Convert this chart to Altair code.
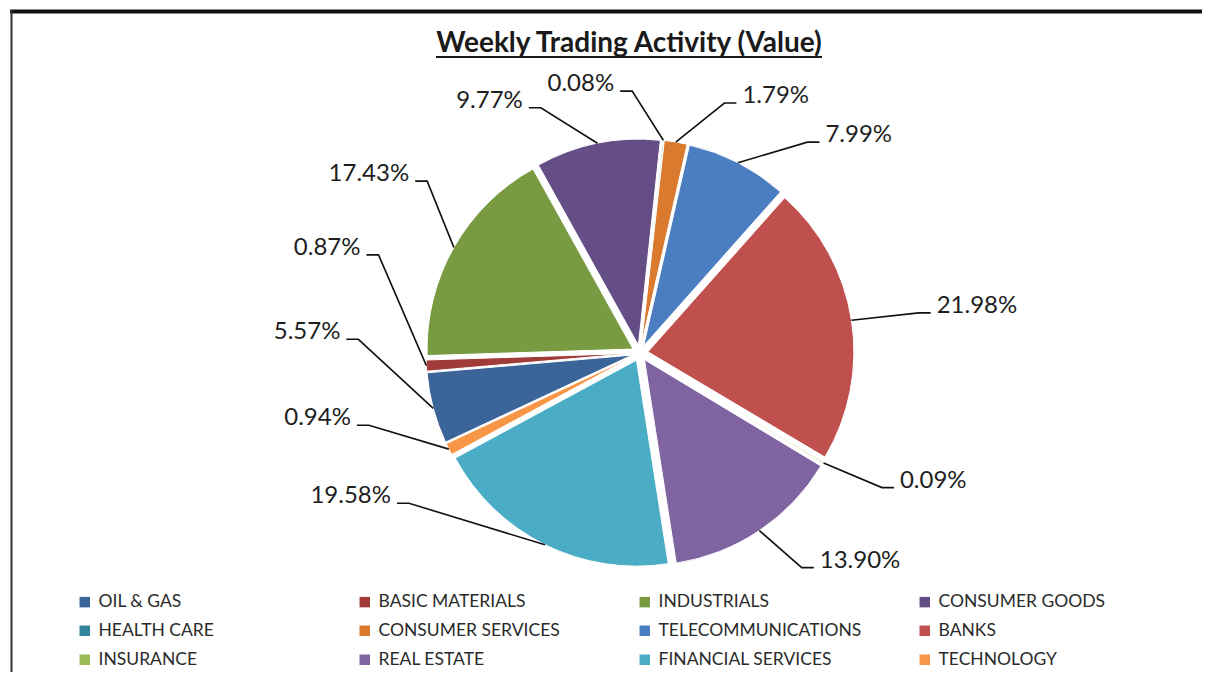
import math
import altair as alt
import pandas as pd

# ---------------- data ----------------
sectors = ["OIL & GAS", "BASIC MATERIALS", "INDUSTRIALS", "CONSUMER GOODS",
           "HEALTH CARE", "CONSUMER SERVICES", "TELECOMMUNICATIONS", "BANKS",
           "INSURANCE", "REAL ESTATE", "FINANCIAL SERVICES", "TECHNOLOGY"]
shares = [5.57, 0.87, 17.43, 9.77, 0.08, 1.79, 7.99, 21.98, 0.09, 13.90, 19.58, 0.94]
colors = ["#3B6499", "#A03B39", "#789A41", "#654E86", "#31849B", "#D97A2E",
          "#4A7EC0", "#C0504D", "#9BBB59", "#8064A2", "#4BACC6", "#F79646"]
title_text = "Weekly Trading Activity (Value)"

# ---------------- layout ----------------
W, H = 1194, 664
CX, CY = 632, 345          # pie centre inside the view
R = 206                    # slice radius
EXPLODE = 8                # slice explosion
RX_LAB, RY_LAB = 282, 262  # leader elbow ellipse
FIRST_ANGLE = 245.0        # angle of first slice (deg, clockwise from 12 o'clock)
TICK, GAP = 12, 6
MIN_SEP = 19.0
ZONE = (145.0, 235.0)      # keep labels off the bottom (legend area)
FONT = "Lato"

total = sum(shares)
f0s, f1s, mids = [], [], []
acc = 0.0
for v in shares:
    f0s.append(acc / total)
    acc += v
    f1s.append(acc / total)
    mids.append((FIRST_ANGLE + (f0s[-1] + f1s[-1]) / 2 * 360) % 360)


def spread(angles):
    lo, hi = ZONE
    t = []
    for a in angles:
        if lo < a < hi:
            a = lo if a - lo < hi - a else hi
        t.append(a if a >= hi else a + 360)
    order = sorted(range(len(t)), key=lambda i: t[i])
    target = [t[i] - k * MIN_SEP for k, i in enumerate(order)]
    blocks = []
    for v in target:
        blocks.append([v, 1])
        while len(blocks) > 1 and blocks[-2][0] / blocks[-2][1] > blocks[-1][0] / blocks[-1][1]:
            s, c = blocks.pop()
            blocks[-1][0] += s
            blocks[-1][1] += c
    q = []
    for s, c in blocks:
        q += [s / c] * c
    out = [0.0] * len(t)
    for k, i in enumerate(order):
        p = max(q[k], hi) + k * MIN_SEP
        out[i] = p % 360
    return out


lab_angles = spread(mids)

rad = math.radians
slice_rows, leader_rows, text_rows = [], [], []
for i, name in enumerate(sectors):
    m = rad(mids[i])
    la = rad(lab_angles[i])
    slice_rows.append({"sector": name, "share": shares[i], "f0": f0s[i], "f1": f1s[i],
                       "ex": EXPLODE * math.sin(m), "ey": EXPLODE * math.cos(m)})
    side = 1 if lab_angles[i] < 180 else -1
    edge = ((R + EXPLODE) * math.sin(m), (R + EXPLODE) * math.cos(m))
    elbow = (RX_LAB * math.sin(la), RY_LAB * math.cos(la))
    end = (elbow[0] + side * TICK, elbow[1])
    for k, pt in enumerate([edge, elbow, end]):
        leader_rows.append({"sector": name, "k": k, "px": pt[0], "py": pt[1]})
    text_rows.append({"sector": name, "label": f"{shares[i]:.2f}%",
                      "tx": elbow[0] + side * (TICK + GAP), "ty": elbow[1],
                      "side": "right" if side > 0 else "left"})

slices = pd.DataFrame(slice_rows)
leaders = pd.DataFrame(leader_rows)
texts = pd.DataFrame(text_rows)

xs = alt.Scale(domain=[-CX, W - CX], range=[0, W], nice=False, zero=False)
ys = alt.Scale(domain=[-(H - CY), CY], range=[H, 0], nice=False, zero=False)
theta_scale = alt.Scale(domain=[0, 1], range=[rad(FIRST_ANGLE), rad(FIRST_ANGLE) + 2 * math.pi])

arcs = alt.Chart(slices).mark_arc(outerRadius=R, stroke="white", strokeWidth=1).encode(
    theta=alt.Theta("f0:Q", scale=theta_scale, stack=None),
    theta2="f1:Q",
    x=alt.X("ex:Q", scale=xs, axis=None),
    y=alt.Y("ey:Q", scale=ys, axis=None),
    color=alt.Color("sector:N", scale=alt.Scale(domain=sectors, range=colors),
                    legend=alt.Legend(orient="none", legendX=68, legendY=585,
                                      direction="horizontal", columns=4, gridAlign="all",
                                      columnPadding=54, rowPadding=10, title=None,
                                      symbolType="square", symbolSize=110,
                                      symbolStrokeWidth=0, labelOffset=5,
                                      labelFont=FONT, labelFontSize=17.5,
                                      labelColor="#2b2b2b", labelLimit=400)),
    tooltip=["sector:N", "share:Q"],
)

lines = alt.Chart(leaders).mark_line(color="#111111", strokeWidth=1.6).encode(
    x=alt.X("px:Q", scale=xs, axis=None),
    y=alt.Y("py:Q", scale=ys, axis=None),
    detail="sector:N",
    order="k:Q",
)

def label_layer(side, align):
    return alt.Chart(texts).transform_filter(f"datum.side == '{side}'").mark_text(
        align=align, baseline="middle", dy=-7, font=FONT, fontSize=24, color="#1e1e1e"
    ).encode(
        x=alt.X("tx:Q", scale=xs, axis=None),
        y=alt.Y("ty:Q", scale=ys, axis=None),
        text="label:N",
    )

one = pd.DataFrame({"t": [title_text]})
title = alt.Chart(one).mark_text(font=FONT, fontSize=28, fontWeight="bold",
                                 color="#1a1a1a", align="center", baseline="alphabetic").encode(
    text="t:N", x=alt.value(621), y=alt.value(44))
underline = alt.Chart(one).mark_rule(color="#1a1a1a", strokeWidth=2).encode(
    x=alt.value(428), x2=alt.value(814), y=alt.value(49))
frame_top = alt.Chart(one).mark_rule(color="#111111", strokeWidth=4).encode(
    x=alt.value(2), x2=alt.value(W), y=alt.value(3.5))
frame_left = alt.Chart(one).mark_rule(color="#333333", strokeWidth=2).encode(
    x=alt.value(3.5), y=alt.value(2), y2=alt.value(H))

chart = alt.layer(
    frame_top, frame_left, arcs, lines,
    label_layer("right", "left"), label_layer("left", "right"),
    title, underline,
).properties(
    width=W, height=H, padding=0,
    autosize=alt.AutoSizeParams(type="none"),
    background="white",
).configure_view(stroke=None)

chart.save("out.html", embed_options={"renderer": "svg", "actions": False})
